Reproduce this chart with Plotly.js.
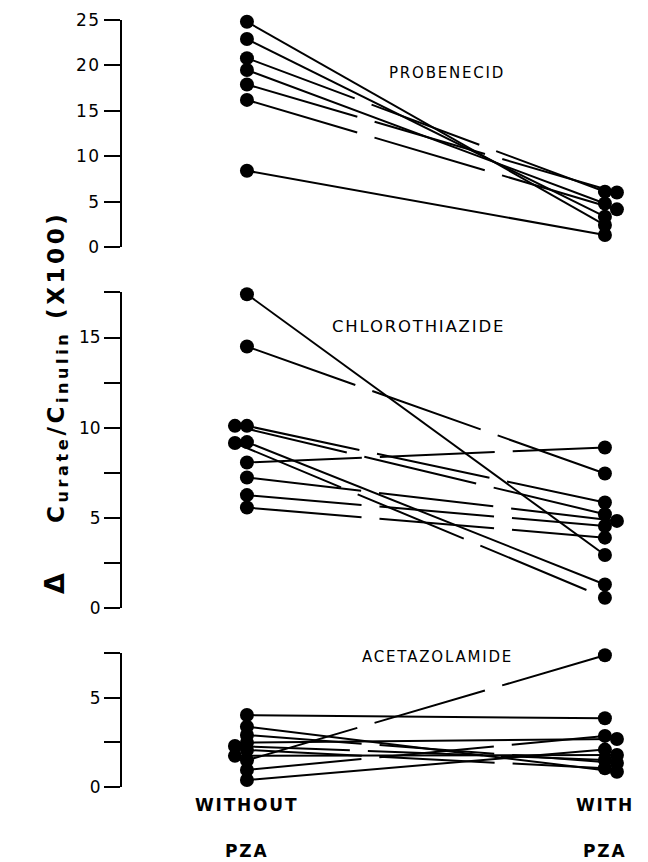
<!DOCTYPE html>
<html>
<head>
<meta charset="utf-8">
<script src="https://cdn.plot.ly/plotly-3.0.1.min.js"></script>
<style>
  body { margin: 0; background: #fff; }
  #chart { width: 648px; height: 862px; }
  .annotation-text { letter-spacing: 1.8px; }
  .ytick text { letter-spacing: 1.5px; }
</style>
</head>
<body>
<div id="chart"></div>
<script>
// ---- data ----
const xCategories = ["WITHOUT", "WITH"];
const xCategoriesLine2 = ["PZA", "PZA"];
const panelNames = ["PROBENECID", "CHLOROTHIAZIDE", "ACETAZOLAMIDE"];

const probenecidWithout = [24.8, 22.9, 20.8, 19.5, 17.9, 16.2, 8.4];
const probenecidWith    = [2.42, 3.34, 6.1, 4.8, 6.0, 4.15, 1.32];
const probenecidDashed  = [false, false, true, false, true, true, false];

const chlorothiazideWithout = [17.4, 14.5, 10.1, 10.1, 9.2, 9.15, 8.07, 7.24, 6.26, 5.57];
const chlorothiazideWith    = [2.94, 7.46, 5.85, 5.2, 1.3, 0.57, 8.9, 4.83, 4.55, 3.9];
const chlorothiazideDashed  = [false, true, true, true, false, true, true, true, true, true];

const acetazolamideWithout = [4.04, 3.39, 2.92, 2.49, 2.3, 2.08, 1.75, 1.5, 0.96, 0.39];
const acetazolamideWith    = [3.86, 0.86, 1.35, 2.7, 1.52, 1.05, 1.8, 7.4, 2.87, 2.1];
const acetazolamideDashed  = [false, false, true, false, true, true, false, true, true, false];

const probenecidTicks = [0, 5, 10, 15, 20, 25];
const chlorothiazideTicks = [0, 5, 10, 15];
const chlorothiazideMinorTicks = [2.5, 7.5, 12.5, 17.5];
const acetazolamideTicks = [0, 5];
const acetazolamideMinorTicks = [2.5, 7.5];

// ---- layout geometry ----
const W = 648, H = 862;
const margin = {l: 122, r: 8, t: 20, b: 75};
const plotH = H - margin.t - margin.b;
const plotW = W - margin.l - margin.r;
const xRange = [-0.349, 1.098];
const panels = [
  {name: panelNames[0], wo: probenecidWithout, wi: probenecidWith, dashed: probenecidDashed,
   range: [0, 25], domain: [0.704, 1], ticks: probenecidTicks, minor: [],
   label: {x: 0.56, y: 19.2, size: 15}},
  {name: panelNames[1], wo: chlorothiazideWithout, wi: chlorothiazideWith, dashed: chlorothiazideDashed,
   range: [0, 17.5], domain: [0.2334, 0.6448], ticks: chlorothiazideTicks, minor: chlorothiazideMinorTicks,
   label: {x: 0.48, y: 15.6, size: 16.5}},
  {name: panelNames[2], wo: acetazolamideWithout, wi: acetazolamideWith, dashed: acetazolamideDashed,
   range: [0, 7.5], domain: [0, 0.1741], ticks: acetazolamideTicks, minor: acetazolamideMinorTicks,
   label: {x: 0.533, y: 7.3, size: 15}}
];

// dodge overlapping markers horizontally (like the original hand plot)
const pxPerX = plotW / (xRange[1] - xRange[0]);
function dodge(vals, pxPerUnit, dir) {
  const order = vals.map((v, i) => i).sort((a, b) => vals[b] - vals[a]);
  const placed = [];
  const off = new Array(vals.length).fill(0);
  order.forEach(i => {
    const clash = placed.some(v => Math.abs(v - vals[i]) * pxPerUnit < 7);
    if (clash) off[i] = dir * 12 / pxPerX; else placed.push(vals[i]);
  });
  return off;
}

const traces = [];
const layout = {
  width: W, height: H, margin: margin,
  paper_bgcolor: "#fff", plot_bgcolor: "#fff",
  showlegend: false,
  font: {family: "DejaVu Sans, sans-serif", color: "#000"},
  xaxis: {range: xRange, visible: false, fixedrange: true},
  annotations: []
};

panels.forEach((p, k) => {
  const yName = k === 0 ? "y" : "y" + (k + 1);
  const yKey = k === 0 ? "yaxis" : "yaxis" + (k + 1);
  const pxPerUnit = plotH * (p.domain[1] - p.domain[0]) / (p.range[1] - p.range[0]);
  const offWo = dodge(p.wo, pxPerUnit, -1);
  const offWi = dodge(p.wi, pxPerUnit, +1);
  p.wo.forEach((v, i) => {
    traces.push({
      type: "scatter", mode: "lines+markers",
      x: [0 + offWo[i], 1 + offWi[i]], y: [v, p.wi[i]],
      xaxis: "x", yaxis: yName,
      line: {color: "#000", width: 2, dash: p.dashed[i] ? "115px,18px" : "solid"},
      marker: {color: "#000", size: 14},
      cliponaxis: false, hoverinfo: "skip"
    });
  });
  const ax = {
    domain: p.domain, range: p.range, anchor: "x",
    showgrid: false, zeroline: false,
    showline: true, linecolor: "#000", linewidth: 2,
    ticks: "outside", ticklen: 16, tickwidth: 2, tickcolor: "#000",
    tickmode: "array", tickvals: p.ticks, ticktext: p.ticks.map(String),
    tickfont: {family: "DejaVu Sans, sans-serif", size: 17, color: "#000"},
    fixedrange: true
  };
  if (p.minor.length) {
    ax.minor = {tickmode: "array", tickvals: p.minor, ticks: "outside", ticklen: 16,
                tickwidth: 2, tickcolor: "#000", showgrid: false};
  }
  layout[yKey] = ax;
  layout.annotations.push({
    xref: "x", yref: yName, x: p.label.x, y: p.label.y,
    text: p.name, showarrow: false,
    font: {family: "DejaVu Sans, sans-serif", size: p.label.size, color: "#000"}
  });
});

// x category labels
xCategories.forEach((c, i) => {
  layout.annotations.push({xref: "x", yref: "paper", x: i, y: -0.0235, yanchor: "middle",
    text: "<b>" + c + "</b>", showarrow: false,
    font: {family: "DejaVu Sans, sans-serif", size: 17, color: "#000"}});
  layout.annotations.push({xref: "x", yref: "paper", x: i, y: -0.083, yanchor: "middle",
    text: "<b>" + xCategoriesLine2[i] + "</b>", showarrow: false,
    font: {family: "DejaVu Sans, sans-serif", size: 17, color: "#000"}});
});

// y title
layout.annotations.push({
  xref: "paper", yref: "paper", x: -0.165, y: 0.502, textangle: -90,
  text: "<b><span style=\"font-size:27px\">Δ</span>    C<sub>urate</sub>/C<sub>inulin</sub> (X100)</b>", showarrow: false,
  font: {family: "DejaVu Sans, sans-serif", size: 23, color: "#000"}
});

Plotly.newPlot("chart", traces, layout, {staticPlot: true, displayModeBar: false}).then(gd => {
  gd.querySelectorAll(".annotation-text").forEach(t => {
    if (t.textContent.indexOf("urate") >= 0) { t.style.letterSpacing = "3.6px"; t.style.whiteSpace = "pre"; }
  });
});
</script>
</body>
</html>
